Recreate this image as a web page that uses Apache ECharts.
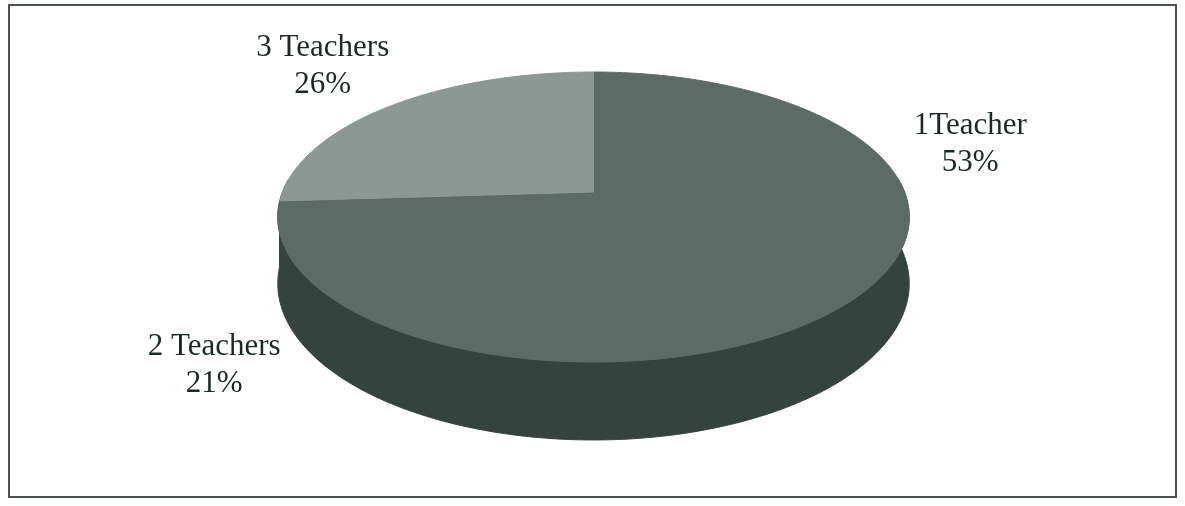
<!DOCTYPE html>
<html><head><meta charset="utf-8">
<script src="https://cdn.jsdelivr.net/npm/echarts@6/dist/echarts.min.js"></script>
<style>html,body{margin:0;padding:0;background:#fff}#c{width:1185px;height:506px}</style>
</head><body><div id="c"></div>
<script>
// ---- data ----
const categories = ['1Teacher', '2 Teachers', '3 Teachers'];
const shares = [53, 21, 26];

// ---- style / layout ----
const topColors = ['#5d6b67', '#5d6b67', '#8b9894'];
const wallColors = ['#35433f', '#35433f', '#35433f'];
const labelOffsets = [[62, -61], [-116, 68], [-68, -39]];
const geo = { cx: 593.5, cy: 192, A: 140.7, b: -0.1725, B: 311, D: 64.5 };

const total = shares.reduce((a, v) => a + v, 0);
const deg = Math.PI / 180;
function proj(tDeg, down) {
  const t = tDeg * deg, s = Math.sin(t), c = Math.cos(t), w = 1 + geo.b * s;
  return [geo.cx + geo.B * c / w, geo.cy + geo.A * s / w + (down ? geo.D / w : 0)];
}

const chart = echarts.init(document.getElementById('c'), null, { renderer: 'canvas' });
chart.setOption({
  animation: false,
  backgroundColor: '#ffffff',
  graphic: [{
    type: 'rect', shape: { x: 9, y: 5, width: 1167, height: 492 },
    style: { fill: 'none', stroke: '#4c524f', lineWidth: 2 }, z: 10
  }],
  series: [{
    type: 'custom',
    coordinateSystem: 'none',
    data: categories.map((n, i) => ({ name: n, value: shares[i] })),
    renderItem: function (params, api) {
      const i = params.dataIndex;
      let before = 0;
      for (let k = 0; k < i; k++) before += shares[k];
      const t0 = -90 + 360 * before / total;
      const t1 = t0 + 360 * shares[i] / total;
      const children = [];
      // top face
      const topPts = [[geo.cx, geo.cy]];
      for (let t = t0; t < t1; t += 0.5) topPts.push(proj(t, false));
      topPts.push(proj(t1, false));
      children.push({ type: 'polygon', z2: 2, shape: { points: topPts },
        style: { fill: topColors[i], stroke: topColors[i], lineWidth: 1 } });
      // side wall
      const a0 = Math.max(t0, -5), a1 = Math.min(t1, 185);
      if (a1 > a0) {
        const up = [], dn = [];
        for (let t = a0; t < a1; t += 0.5) { up.push(proj(t, false)); dn.push(proj(t, true)); }
        up.push(proj(a1, false)); dn.push(proj(a1, true));
        children.push({ type: 'polygon', z2: 1, shape: { points: up.concat(dn.reverse()) },
          style: { fill: wallColors[i], stroke: wallColors[i], lineWidth: 1 } });
      }
      // label
      const mid = proj((t0 + t1) / 2, false);
      children.push({ type: 'text', z2: 5,
        style: { text: categories[i] + '\n' + shares[i] + '%',
          x: mid[0] + labelOffsets[i][0], y: mid[1] + labelOffsets[i][1],
          align: 'center', verticalAlign: 'middle',
          fontFamily: '"Liberation Serif", "Times New Roman", serif', fontSize: 31,
          lineHeight: 37, fill: '#1d2824' } });
      return { type: 'group', children: children };
    }
  }]
});
</script></body></html>
